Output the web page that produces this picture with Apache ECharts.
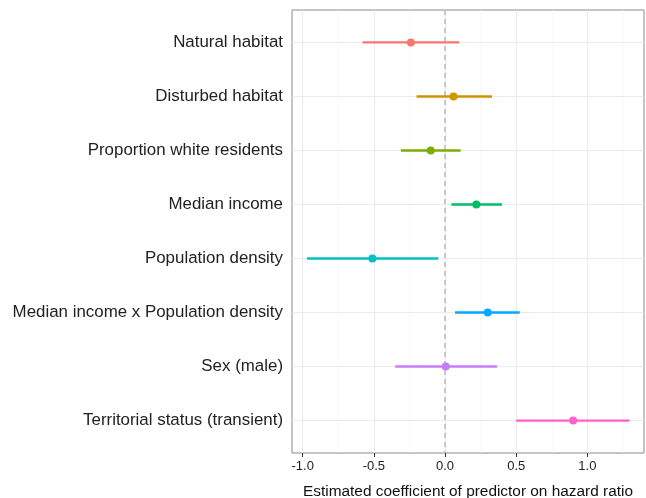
<!DOCTYPE html>
<html>
<head>
<meta charset="utf-8">
<script src="https://cdn.jsdelivr.net/npm/echarts@6/dist/echarts.min.js"></script>
<style>html,body{margin:0;padding:0;background:#fff}#c{width:646px;height:498px}</style>
</head>
<body>
<div id="c"></div>
<script>
const categories = ["Natural habitat","Disturbed habitat","Proportion white residents","Median income","Population density","Median income x Population density","Sex (male)","Territorial status (transient)"];
const estimates = [-0.24, 0.06, -0.10, 0.22, -0.51, 0.30, 0.005, 0.90];
const lower = [-0.58, -0.20, -0.31, 0.045, -0.97, 0.07, -0.35, 0.50];
const upper = [0.10, 0.33, 0.11, 0.40, -0.047, 0.525, 0.365, 1.295];
const colors = ["#F8766D","#CD9600","#7CAE00","#00BE67","#00BFC4","#00A9FF","#C77CFF","#FF61CC"];
const xTicks = [-1, -0.5, 0, 0.5, 1];
const xMinor = [-0.75, -0.25, 0.25, 0.75, 1.25];
const xTitle = "Estimated coefficient of predictor on hazard ratio";

const yPos = categories.map((c, i) => i + 1);
const FONT = "Liberation Sans, Arial, Helvetica, sans-serif";

const chart = echarts.init(document.getElementById('c'), null, {renderer: 'canvas'});

const gridLines = [];
xMinor.forEach(v => gridLines.push({xAxis: v, lineStyle: {color: '#F3F3F3', width: 0.6, type: 'solid'}}));
xTicks.forEach(v => gridLines.push({xAxis: v, lineStyle: {color: '#EBEBEB', width: 1.1, type: 'solid'}}));
yPos.forEach(v => gridLines.push({yAxis: v, lineStyle: {color: '#EBEBEB', width: 1.1, type: 'solid'}}));

const barSeries = categories.map((c, i) => ({
  type: 'line', z: 3, silent: true, showSymbol: false, symbol: 'none',
  data: [[lower[i], yPos[i]], [upper[i], yPos[i]]],
  lineStyle: {color: colors[i], width: 2.4, cap: 'butt'},
  itemStyle: {color: colors[i]}
}));

const option = {
  animation: false,
  backgroundColor: '#fff',
  grid: {left: 292, right: 2, top: 10, bottom: 45, show: true, borderColor: '#8a8a8a', borderWidth: 1, backgroundColor: '#fff', outerBoundsMode: 'none', containLabel: false},
  xAxis: {
    type: 'value', min: -1.075, max: 1.398,
    splitLine: {show: false},
    axisLine: {show: false},
    axisTick: {show: true, customValues: xTicks, length: 4, lineStyle: {color: '#333'}},
    axisLabel: {customValues: xTicks, formatter: v => v.toFixed(1), color: '#222', fontSize: 13, fontFamily: FONT, margin: 7},
    name: xTitle, nameLocation: 'middle', nameGap: 31,
    nameTextStyle: {color: '#111', fontSize: 15.4, fontFamily: FONT}
  },
  yAxis: {
    type: 'value', min: 0.4, max: 8.6, inverse: true,
    splitLine: {show: false},
    axisLine: {show: false},
    axisTick: {show: true, customValues: yPos, length: 5, lineStyle: {color: '#333'}},
    axisLabel: {customValues: yPos, formatter: v => categories[Math.round(v) - 1] || '', color: '#222', fontSize: 16.9, fontFamily: FONT, margin: 9}
  },
  series: [
    {
      type: 'line', data: [], z: 1, silent: true,
      markLine: {z: 1, silent: true, symbol: ['none','none'], label: {show: false}, animation: false, data: gridLines}
    },
    {
      type: 'line', data: [], z: 2, silent: true,
      markLine: {z: 2, silent: true, symbol: ['none','none'], label: {show: false}, animation: false,
        data: [{xAxis: 0, lineStyle: {color: '#BDBDBD', width: 1.6, type: [5, 4]}}]}
    }
  ].concat(barSeries).concat([
    {
      type: 'scatter', z: 4, symbolSize: 8, silent: true,
      data: categories.map((c, i) => ({value: [estimates[i], yPos[i]], itemStyle: {color: colors[i], opacity: 1}}))
    }
  ])
};
chart.setOption(option);
</script>
</body>
</html>
